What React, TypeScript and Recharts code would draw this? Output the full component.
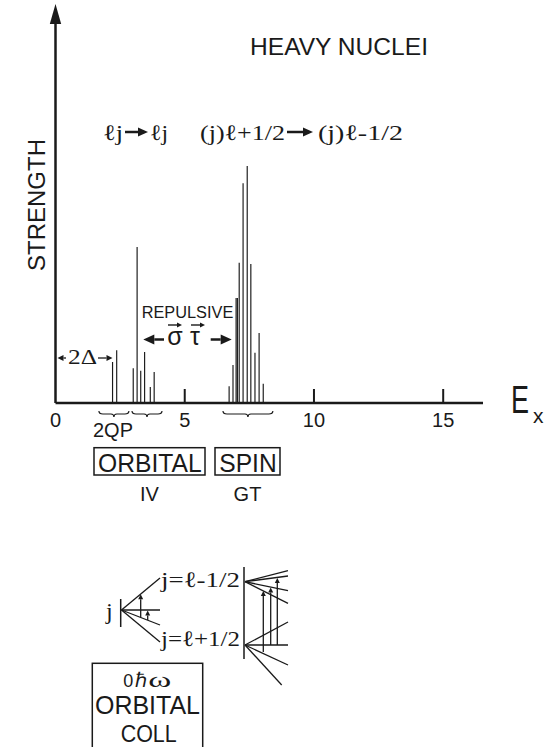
import React from 'react';
import { ComposedChart, Bar, XAxis, YAxis } from 'recharts';

// Excitation energies (MeV) of the strength lines and their strengths (arb. units)
const energies = [2.21, 2.37, 3.01, 3.16, 3.3, 3.45, 3.67, 3.82, 6.72, 6.87, 6.99, 7.04, 7.11, 7.26, 7.42, 7.56, 7.72, 7.88, 8.04];
const strengths = [10.7, 13.8, 9.1, 40.7, 8.4, 13.3, 4.2, 8.1, 4.4, 9.9, 27.4, 27.4, 36.6, 57.4, 61.9, 36.3, 13.1, 18.3, 5.0];
const xTicks = [0, 5, 10, 15];
const braceRanges = [
  [1.68, 2.84],
  [2.96, 4.12],
  [6.48, 8.41],
];

const W = 548;
const H = 747;
const X_MAX = 16.54;
const Y_MAX = 100;
const AXIS_X_H = 1;
const AXIS_Y_W = 1;
const MARGIN = { top: 20, right: 65, bottom: 344 - AXIS_X_H, left: 55.5 - AXIS_Y_W };
const INK = '#1a1a1a';
const SANS = '"Liberation Sans", Arial, sans-serif';
const SERIF = '"Liberation Serif", "Times New Roman", serif';

const data = energies.map((e, i) => ({ e, s: strengths[i] }));

const PLOT_LEFT = 55.5;
const PLOT_BOTTOM = H - 344;
const plotW = W - PLOT_LEFT - MARGIN.right;
const ex = (e: number) => PLOT_LEFT + (e / X_MAX) * plotW;

const Tick = (props: any) => {
  const { x, y, payload } = props;
  return (
    <text x={x} y={y + 24} textAnchor="middle" fontFamily={SANS} fontSize={20} fill={INK}>
      {payload.value}
    </text>
  );
};

const HArrow = ({ x1, x2, y, head = 10, half = 4.5, w = 2.5 }: any) => {
  const dir = x2 > x1 ? 1 : -1;
  const base = x2 - dir * head;
  return (
    <g>
      <line x1={x1} x2={base} y1={y} y2={y} stroke={INK} strokeWidth={w} />
      <polygon points={`${x2},${y} ${base},${y - half} ${base},${y + half}`} fill={INK} />
    </g>
  );
};

const VArrow = ({ x, y1, y2, head = 5, half = 2.5, w = 1.3 }: any) => {
  const dir = y2 > y1 ? 1 : -1;
  const base = y2 - dir * head;
  return (
    <g>
      <line x1={x} x2={x} y1={y1} y2={base} stroke={INK} strokeWidth={w} />
      <polygon points={`${x},${y2} ${x - half},${base} ${x + half},${base}`} fill={INK} />
    </g>
  );
};

const Brace = ({ a, b, y0 }: any) => {
  const x1 = ex(a);
  const x2 = ex(b);
  const m = (x1 + x2) / 2;
  const d = `M${x1},${y0} Q${x1},${y0 + 3} ${x1 + 4},${y0 + 3} L${m - 3},${y0 + 3} Q${m},${y0 + 3} ${m},${y0 + 6} Q${m},${y0 + 3} ${m + 3},${y0 + 3} L${x2 - 4},${y0 + 3} Q${x2},${y0 + 3} ${x2},${y0}`;
  return <path d={d} fill="none" stroke={INK} strokeWidth={1.2} />;
};

const Fan = ({ x0, y0, ends }: any) => (
  <g>
    {ends.map((p: number[], i: number) => (
      <line key={i} x1={x0} y1={y0} x2={p[0]} y2={p[1]} stroke={INK} strokeWidth={1.3} />
    ))}
  </g>
);

const Overlay = () => (
  <svg
    width={W}
    height={H}
    style={{ position: 'absolute', left: 0, top: 0, pointerEvents: 'none' }}
  >
    <polygon points={`55.5,4 49.8,24 61.2,24`} fill={INK} />
    {xTicks
      .filter((v) => v > 0)
      .map((v) => (
        <line key={v} x1={ex(v)} x2={ex(v)} y1={PLOT_BOTTOM} y2={PLOT_BOTTOM - 14} stroke={INK} strokeWidth={2} />
      ))}
    <text x={45} y={205} transform="rotate(-90 45 205)" textAnchor="middle" fontFamily={SANS} fontSize={24} fill={INK}>
      STRENGTH
    </text>
    <text x={250} y={55} fontFamily={SANS} fontSize={24} fill={INK} textLength={178} lengthAdjust="spacingAndGlyphs">
      HEAVY NUCLEI
    </text>

    <text x={103} y={140} fontFamily={SERIF} fontSize={22} fill={INK} textLength={20} lengthAdjust="spacingAndGlyphs">ℓj</text>
    <HArrow x1={125} x2={148} y={132} />
    <text x={150} y={140} fontFamily={SERIF} fontSize={22} fill={INK} textLength={18} lengthAdjust="spacingAndGlyphs">ℓj</text>
    <text x={200} y={140} fontFamily={SERIF} fontSize={22} fill={INK} textLength={85} lengthAdjust="spacingAndGlyphs">(j)ℓ+1/2</text>
    <HArrow x1={287} x2={313} y={132} />
    <text x={318} y={140} fontFamily={SERIF} fontSize={22} fill={INK} textLength={85} lengthAdjust="spacingAndGlyphs">(j)ℓ-1/2</text>

    <HArrow x1={66} x2={57.5} y={358} head={6} half={3} w={1.3} />
    <text x={68} y={363.5} fontFamily={SERIF} fontSize={21} fill={INK} textLength={29} lengthAdjust="spacingAndGlyphs">2Δ</text>
    <HArrow x1={98} x2={112.5} y={358} head={6} half={3} w={1.3} />

    <text x={141.7} y={318.3} fontFamily={SANS} fontSize={16} fill={INK} textLength={91.6} lengthAdjust="spacingAndGlyphs">REPULSIVE</text>
    <HArrow x1={164} x2={143.3} y={339.5} head={11} half={5} w={2.5} />
    <text x={167.3} y={345} fontFamily={SANS} fontSize={25} fill={INK}>σ</text>
    <text x={190} y={345} fontFamily={SANS} fontSize={25} fill={INK}>τ</text>
    <HArrow x1={168} x2={182} y={325} head={5} half={2.5} w={1.4} />
    <HArrow x1={191} x2={205} y={325} head={5} half={2.5} w={1.4} />
    <HArrow x1={210.7} x2={231.7} y={339.5} head={11} half={5} w={2.5} />

    <g transform="translate(511 413) scale(1 1.45)">
      <text x={0} y={0} fontFamily={SANS} fontSize={27} fill={INK}>E</text>
    </g>
    <text x={533} y={423} fontFamily={SANS} fontSize={21} fill={INK}>x</text>

    {braceRanges.map((r, i) => (
      <Brace key={i} a={r[0]} b={r[1]} y0={411} />
    ))}
    <text x={93} y={437} fontFamily={SANS} fontSize={20} fill={INK} textLength={40} lengthAdjust="spacingAndGlyphs">2QP</text>
    <rect x={94} y={447.7} width={111} height={27.3} fill="none" stroke={INK} strokeWidth={1.5} />
    <text x={98} y={471.7} fontFamily={SANS} fontSize={25} fill={INK} textLength={103.7} lengthAdjust="spacingAndGlyphs">ORBITAL</text>
    <rect x={215} y={447.7} width={65} height={27.3} fill="none" stroke={INK} strokeWidth={1.5} />
    <text x={219.3} y={471.7} fontFamily={SANS} fontSize={25} fill={INK} textLength={57.4} lengthAdjust="spacingAndGlyphs">SPIN</text>
    <text x={149.5} y={501} textAnchor="middle" fontFamily={SANS} fontSize={20} fill={INK}>IV</text>
    <text x={247.5} y={501} textAnchor="middle" fontFamily={SANS} fontSize={20} fill={INK}>GT</text>

    <text x={106} y={619} fontFamily={SERIF} fontSize={24} fill={INK}>j</text>
    <line x1={120.7} x2={120.7} y1={599} y2={627} stroke={INK} strokeWidth={1.5} />
    <Fan x0={121.5} y0={610} ends={[[160, 578], [160, 610], [160, 625], [160, 642]]} />
    <VArrow x={140.7} y1={617.3} y2={594.3} />
    <VArrow x={147.7} y1={620} y2={610.5} />
    <text x={161} y={587} fontFamily={SERIF} fontSize={22} fill={INK} textLength={79} lengthAdjust="spacingAndGlyphs">j=ℓ-1/2</text>
    <text x={161} y={646} fontFamily={SERIF} fontSize={22} fill={INK} textLength={79} lengthAdjust="spacingAndGlyphs">j=ℓ+1/2</text>
    <line x1={244} x2={244} y1={567} y2={659} stroke={INK} strokeWidth={1.5} />
    <Fan x0={245} y0={581.7} ends={[[288, 570.7], [288, 576], [288, 590.7], [288, 603.3]]} />
    <Fan x0={245} y0={645} ends={[[288, 622], [288, 645], [288, 665], [281.7, 685]]} />
    <VArrow x={263.3} y1={652} y2={591} />
    <VArrow x={270.7} y1={645} y2={587.5} />
    <VArrow x={277.3} y1={645} y2={578} />
    <rect x={92.3} y={663.3} width={110.4} height={100} fill="none" stroke={INK} strokeWidth={1.5} />
    <text x={123.3} y={686.7} fontFamily={SANS} fontSize={18} fill={INK}>0</text>
    <text x={135} y={686.7} fontFamily={SERIF} fontSize={20} fill={INK}>ℏ</text>
    <text x={148.3} y={686.7} fontFamily={SERIF} fontSize={22} fill={INK} textLength={23} lengthAdjust="spacingAndGlyphs">ω</text>
    <text x={95} y={714} fontFamily={SANS} fontSize={25} fill={INK} textLength={105} lengthAdjust="spacingAndGlyphs">ORBITAL</text>
    <text x={120.7} y={741.7} fontFamily={SANS} fontSize={24} fill={INK} textLength={56} lengthAdjust="spacingAndGlyphs">COLL</text>
  </svg>
);

export default function App() {
  return (
    <div style={{ position: 'absolute', left: 0, top: 0, width: W, height: H, background: '#fff' }}>
      <ComposedChart width={W} height={H} data={data} margin={MARGIN}>
        <XAxis
          type="number"
          dataKey="e"
          domain={[0, X_MAX]}
          ticks={xTicks}
          interval={0}
          allowDataOverflow
          height={AXIS_X_H}
          tickLine={false}
          tickSize={0}
          tickMargin={0}
          axisLine={{ stroke: INK, strokeWidth: 2.5 }}
          tick={<Tick />}
        />
        <YAxis
          type="number"
          domain={[0, Y_MAX]}
          width={AXIS_Y_W}
          tick={false}
          tickLine={false}
          axisLine={{ stroke: INK, strokeWidth: 2.5 }}
        />
        <Bar dataKey="s" fill={INK} barSize={2} isAnimationActive={false} />
      </ComposedChart>
      <Overlay />
    </div>
  );
}
